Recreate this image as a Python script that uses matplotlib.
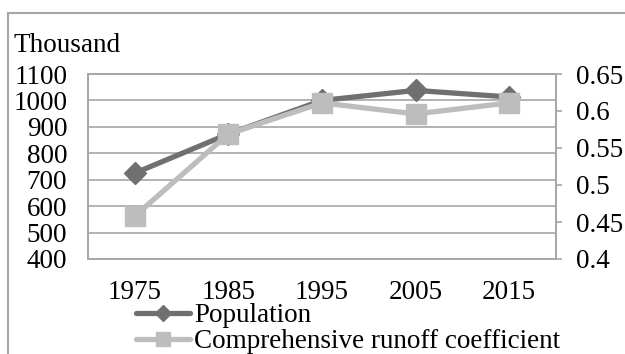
import matplotlib.pyplot as plt
from matplotlib.lines import Line2D

plt.rcParams['font.family'] = ['Liberation Serif', 'DejaVu Serif']

years = ['1975', '1985', '1995', '2005', '2015']
population = [725, 873, 1000, 1038, 1013]
runoff = [0.458, 0.569, 0.611, 0.596, 0.611]

dark = '#707070'
light = '#bdbdbd'
grid_c = '#a6a6a6'
fs = 19.5

fig = plt.figure(figsize=(6.25, 3.54), dpi=100)
ax = fig.add_axes([88 / 625, 1 - 259 / 354, 468 / 625, 185 / 354])
x = range(len(years))

ax.plot(x, population, color=dark, lw=3.8, marker='D', ms=11,
        mec=dark, mfc=dark, zorder=3, solid_capstyle='round', label='Population')
ax.set_ylim(400, 1100)
ax.set_yticks(range(400, 1101, 100))
ax.set_xlim(-0.5, len(years) - 0.5)
ax.set_xticks(list(x))
ax.set_xticklabels(years)
ax.yaxis.grid(True, color=grid_c, lw=1.2)
ax.set_axisbelow(True)
ax.tick_params(axis='both', length=0, labelsize=fs)
ax.tick_params(axis='y', pad=15)
ax.tick_params(axis='x', pad=15)
for s in ax.spines.values():
    s.set_color(grid_c)
    s.set_linewidth(1.2)

# runoff coefficient on the secondary axis, drawn over the population line
ax2 = ax.twinx()
ax2.plot(x, runoff, color=light, lw=3.8, marker='s', ms=14,
         mec=light, mfc=light, zorder=4, solid_capstyle='round',
         label='Comprehensive runoff coefficient')
ax2.set_ylim(0.4, 0.65)
ax2.set_yticks([0.4, 0.45, 0.5, 0.55, 0.6, 0.65])
ax2.set_yticklabels(['0.4', '0.45', '0.5', '0.55', '0.6', '0.65'])
ax2.tick_params(axis='y', length=4.5, color=grid_c, width=1.2, labelsize=fs, pad=10)
for s in ax2.spines.values():
    s.set_color(grid_c)
    s.set_linewidth(1.2)

fig.text(13 / 625, 1 - 45 / 354, 'Thousand', fontsize=fs, ha='left', va='center')

h1, l1 = ax.get_legend_handles_labels()
h2, l2 = ax2.get_legend_handles_labels()
fig.legend(h1 + h2, l1 + l2, loc='upper left', bbox_to_anchor=(136 / 625, 1 - 303 / 354),
           frameon=False, fontsize=fs, handlelength=2.0, handletextpad=0.15,
           labelspacing=0.05, borderaxespad=0, borderpad=0, markerscale=0.75)

# outer chart border
fig.add_artist(Line2D([8 / 625, 8 / 625], [0, 1 - 13 / 354], color=grid_c, lw=1.5,
                      transform=fig.transFigure))
fig.add_artist(Line2D([8 / 625, 1], [1 - 13 / 354, 1 - 13 / 354], color=grid_c, lw=1.5,
                      transform=fig.transFigure))

fig.savefig('out.png', dpi=100)
